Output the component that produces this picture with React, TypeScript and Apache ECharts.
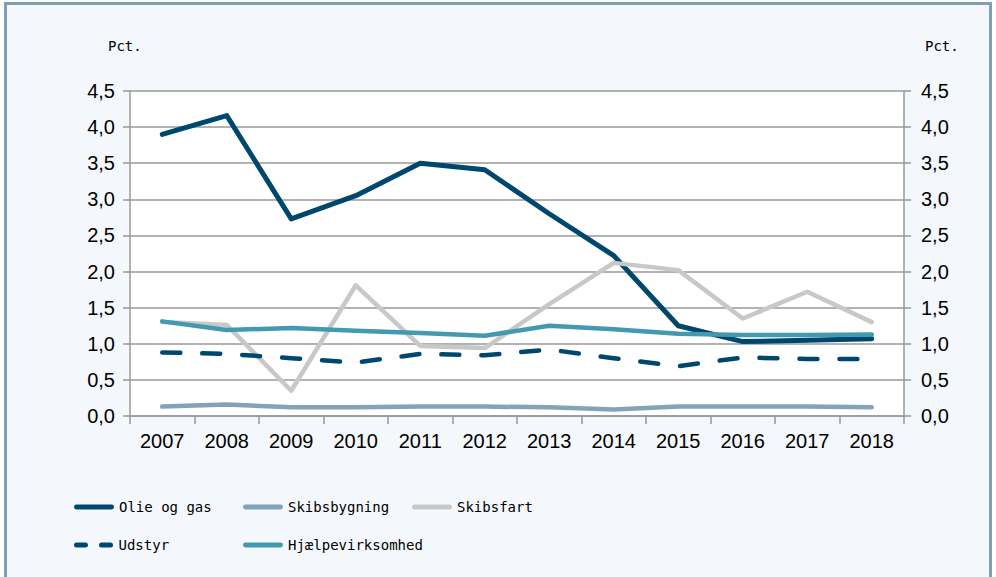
import React, { useEffect, useRef } from "react";
import * as echarts from "echarts";

const years = ["2007","2008","2009","2010","2011","2012","2013","2014","2015","2016","2017","2018"];
const olieOgGas = [3.9, 4.16, 2.73, 3.05, 3.5, 3.41, 2.8, 2.22, 1.25, 1.03, 1.05, 1.07];
const skibsbygning = [0.13, 0.16, 0.12, 0.12, 0.13, 0.13, 0.12, 0.09, 0.13, 0.13, 0.13, 0.12];
const skibsfart = [1.3, 1.26, 0.35, 1.81, 0.97, 0.94, 1.55, 2.12, 2.02, 1.35, 1.72, 1.3];
const udstyr = [0.88, 0.86, 0.8, 0.74, 0.86, 0.84, 0.92, 0.8, 0.69, 0.81, 0.79, 0.79];
const hjaelpevirksomhed = [1.31, 1.19, 1.22, 1.18, 1.15, 1.11, 1.25, 1.2, 1.14, 1.12, 1.12, 1.13];

const NAVY = "#00476e";
const GREYBLUE = "#82a3b8";
const LIGHTGREY = "#c8c8c8";
const TEAL = "#4299b0";
const GRIDC = "#999999";
const MONO = "'DejaVu Sans Mono', monospace";
const SANS = "'Liberation Sans', Arial, sans-serif";

const SOLID_ICON = "path://M2,0h36a2,2 0 0 1 0,5h-36a2,2 0 0 1 0,-5z";
const DASH_ICON = "path://M2,0h9a2,2 0 0 1 0,5h-9a2,2 0 0 1 0,-5z M27,0h9a2,2 0 0 1 0,5h-9a2,2 0 0 1 0,-5z";

export default function App() {
  const ref = useRef<HTMLDivElement>(null);
  useEffect(() => {
    if (!ref.current) return;
    const chart = echarts.init(ref.current, undefined, { renderer: "svg" });
    const fmt = (v: number) => v.toFixed(1).replace(".", ",");
    const yBase = (pos: "left" | "right") => ({
      type: "value",
      position: pos,
      min: 0,
      max: 4.5,
      interval: 0.5,
      axisLine: { show: true, lineStyle: { color: GRIDC, width: 1.5 } },
      axisTick: { show: true, length: 7, lineStyle: { color: GRIDC, width: 1.5 } },
      splitLine: { show: pos === "left", lineStyle: { color: GRIDC, width: 1.5 } },
      axisLabel: {
        formatter: fmt,
        color: "#000",
        fontFamily: SANS,
        fontSize: 20,
        margin: pos === "left" ? 15 : 17,
      },
    });
    const legendItem = (name: string, left: number, top: number, icon: string) => ({
      show: true,
      data: [{ name, icon }],
      left,
      top,
      padding: 0,
      itemWidth: 40,
      itemHeight: 5,
      itemGap: 0,
      selectedMode: false,
      textStyle: { fontFamily: MONO, fontSize: 14, color: "#000" },
    });
    const line = (name: string, data: number[], color: string, width: number, type: any = "solid") => ({
      name,
      type: "line",
      data,
      symbol: "none",
      lineStyle: { color, width, type, cap: "round", join: "round" },
      itemStyle: { color },
    });
    chart.setOption({
      animation: false,
      backgroundColor: "transparent",
      graphic: [
        {
          type: "rect",
          shape: { x: 5.5, y: 3.5, width: 985, height: 590 },
          style: { fill: "#f4f8fc", stroke: "#7f9fb5", lineWidth: 3 },
          z: -10,
        },
        {
          type: "text",
          x: 108,
          y: 46,
          style: { text: "Pct.", fontFamily: MONO, fontSize: 14, fill: "#000", verticalAlign: "middle" },
        },
        {
          type: "text",
          x: 925,
          y: 46,
          style: { text: "Pct.", fontFamily: MONO, fontSize: 14, fill: "#000", verticalAlign: "middle" },
        },
      ],
      grid: {
        left: 130,
        right: 92,
        top: 91,
        bottom: 161,
        show: true,
        backgroundColor: "#ffffff",
        borderWidth: 0,
      },
      legend: [
        legendItem("Olie og gas", 74, 500, SOLID_ICON),
        legendItem("Skibsbygning", 243, 500, SOLID_ICON),
        legendItem("Skibsfart", 412, 500, SOLID_ICON),
        legendItem("Udstyr", 74, 538, DASH_ICON),
        legendItem("Hjælpevirksomhed", 243, 538, SOLID_ICON),
      ],
      xAxis: {
        type: "category",
        data: years,
        boundaryGap: true,
        axisLine: { show: true, lineStyle: { color: GRIDC, width: 1.5 } },
        axisTick: { show: true, length: 8, alignWithLabel: false, lineStyle: { color: GRIDC, width: 1.5 } },
        axisLabel: { color: "#000", fontFamily: SANS, fontSize: 20, margin: 15, interval: 0 },
        splitLine: { show: false },
      },
      yAxis: [yBase("left"), yBase("right")],
      series: [
        line("Olie og gas", olieOgGas, NAVY, 5),
        line("Skibsbygning", skibsbygning, GREYBLUE, 4.5),
        line("Skibsfart", skibsfart, LIGHTGREY, 4.5),
        line("Udstyr", udstyr, NAVY, 4.5, [18, 22]),
        line("Hjælpevirksomhed", hjaelpevirksomhed, TEAL, 4.5),
      ],
    });
    return () => chart.dispose();
  }, []);
  return (
    <div
      ref={ref}
      style={{ position: "absolute", left: 0, top: 0, width: 996, height: 577 }}
    />
  );
}
